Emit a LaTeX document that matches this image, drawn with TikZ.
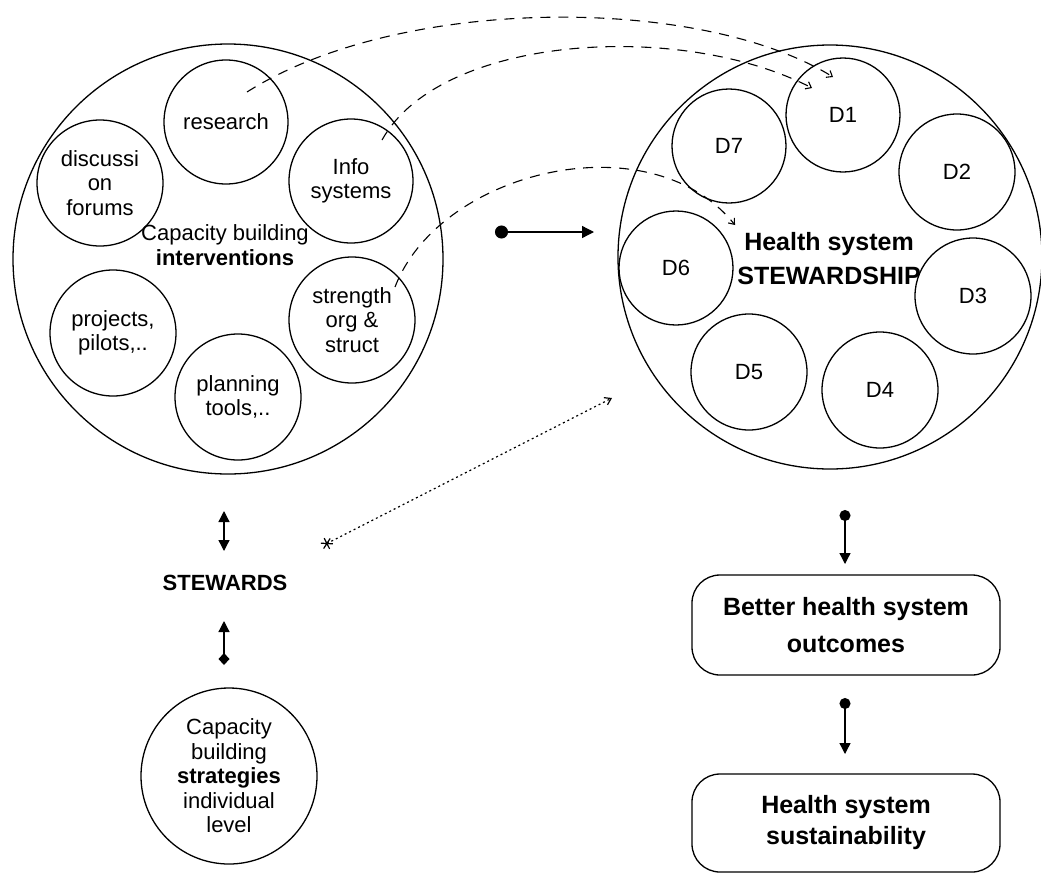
\documentclass[tikz,border=0pt]{standalone}
\usepackage{fontspec}
\setmainfont{Liberation Sans}
\usetikzlibrary{arrows.meta}
\begin{document}
\begin{tikzpicture}[x=1pt,y=-1pt,
  every node/.style={font=\fontsize{22}{24.5}\selectfont, align=center, inner sep=0pt},
  ring/.style={draw, circle, line width=1.3pt, minimum size=#1},
  rbox/.style={draw, rectangle, rounded corners=28pt, line width=1.3pt, minimum width=308pt, minimum height=#1},
  bigb/.style={font=\bfseries\fontsize{25}{#1}\selectfont},
  dashlink/.style={line width=1.1pt, dash pattern=on 10pt off 8pt, -{Straight Barb[length=5pt,width=8pt]}},
  solidarrow/.style={line width=1.3pt},
]
\fill[white] (0,0) rectangle (1041,876);
\useasboundingbox (0,0) rectangle (1041,876);

% left big circle
\node[ring=430pt] (left) at (228,259) {};
\node[ring=124pt] (research) at (226,122) {research};
\node[ring=126pt] (discuss) at (100,183) {discussi\\on\\forums};
\node[ring=124pt] (info) at (351,181) {Info\\systems};
\node[ring=126pt] (strength) at (352,320) {strength\\org \&\\struct};
\node[ring=126pt] (projects) at (113,333) {projects,\\pilots,..};
\node[ring=126pt] (planning) at (238,397) {planning\\tools,..};
\node (cbi) at (225,245) {Capacity building\\\textbf{interventions}};

% right big circle
\node[ring=424pt] (right) at (830,257) {};
\node[ring=114pt] (d1) at (843,115) {D1};
\node[ring=114pt] (d7) at (729,146) {D7};
\node[ring=116pt] (d2) at (957,172) {D2};
\node[ring=114pt] (d6) at (676,268) {D6};
\node[ring=116pt] (d3) at (973,296) {D3};
\node[ring=116pt] (d5) at (749,372) {D5};
\node[ring=116pt] (d4) at (880,390) {D4};
\node[bigb=34] (hss) at (829,259) {Health system\\STEWARDSHIP};

% stewards and strategies
\node[font=\bfseries\fontsize{22}{24.5}\selectfont] (stewards) at (225,583) {STEWARDS};
\node[ring=176pt] (strat) at (229,776) {Capacity\\building\\\textbf{strategies}\\individual\\level};

% outcome boxes
\node[rbox=100pt, bigb=37] (better) at (846,625) {Better health system\\outcomes};
\node[rbox=98pt, bigb=31] (sustain) at (846,823) {Health system\\sustainability};

% coordinates of free ends
\coordinate (s1) at (247,92);
\coordinate (e1) at (833,77);
\coordinate (s2) at (382,140);
\coordinate (e2) at (812,88);
\coordinate (s3) at (395,287);
\coordinate (e3) at (735,225);
\coordinate (ma) at (495,232);
\coordinate (mb) at (594,232);
\coordinate (star) at (322,546);
\coordinate (dotend) at (612,398);
\coordinate (sa) at (224,511);
\coordinate (sb) at (224,551);
\coordinate (sc) at (224,665);
\coordinate (sd) at (224,621);
\coordinate (ra) at (845,510);
\coordinate (rb) at (845,564);
\coordinate (rc) at (845,698);
\coordinate (rd) at (845,754);

% dashed links
\draw[dashlink] (s1) .. controls (400,-5) and (700,-5) .. (e1);
\draw[dashlink] (s2) .. controls (440,35) and (680,20) .. (e2);
\draw[dashlink] (s3) .. controls (440,170) and (650,120) .. (e3);

% middle arrow
\draw[solidarrow, {Circle[length=13pt]}-{Triangle[length=12pt,width=12pt]}] (ma) -- (mb);

% dotted arrow
\draw[line width=1.2pt, dash pattern=on 2pt off 3pt, {Rays[n=6,length=12pt,width=12pt]}-{Straight Barb[length=6pt,width=8pt]}] (star) -- (dotend);

% stewards arrows
\draw[solidarrow, {Triangle[length=11pt,width=11pt]}-{Triangle[length=11pt,width=11pt]}] (sa) -- (sb);
\draw[solidarrow, {Diamond[length=12pt,width=11pt]}-{Triangle[length=11pt,width=11pt]}] (sc) -- (sd);

% right arrows
\draw[solidarrow, {Circle[length=11pt]}-{Triangle[length=11pt,width=11pt]}] (ra) -- (rb);
\draw[solidarrow, {Circle[length=11pt]}-{Triangle[length=11pt,width=11pt]}] (rc) -- (rd);
\end{tikzpicture}
\end{document}
